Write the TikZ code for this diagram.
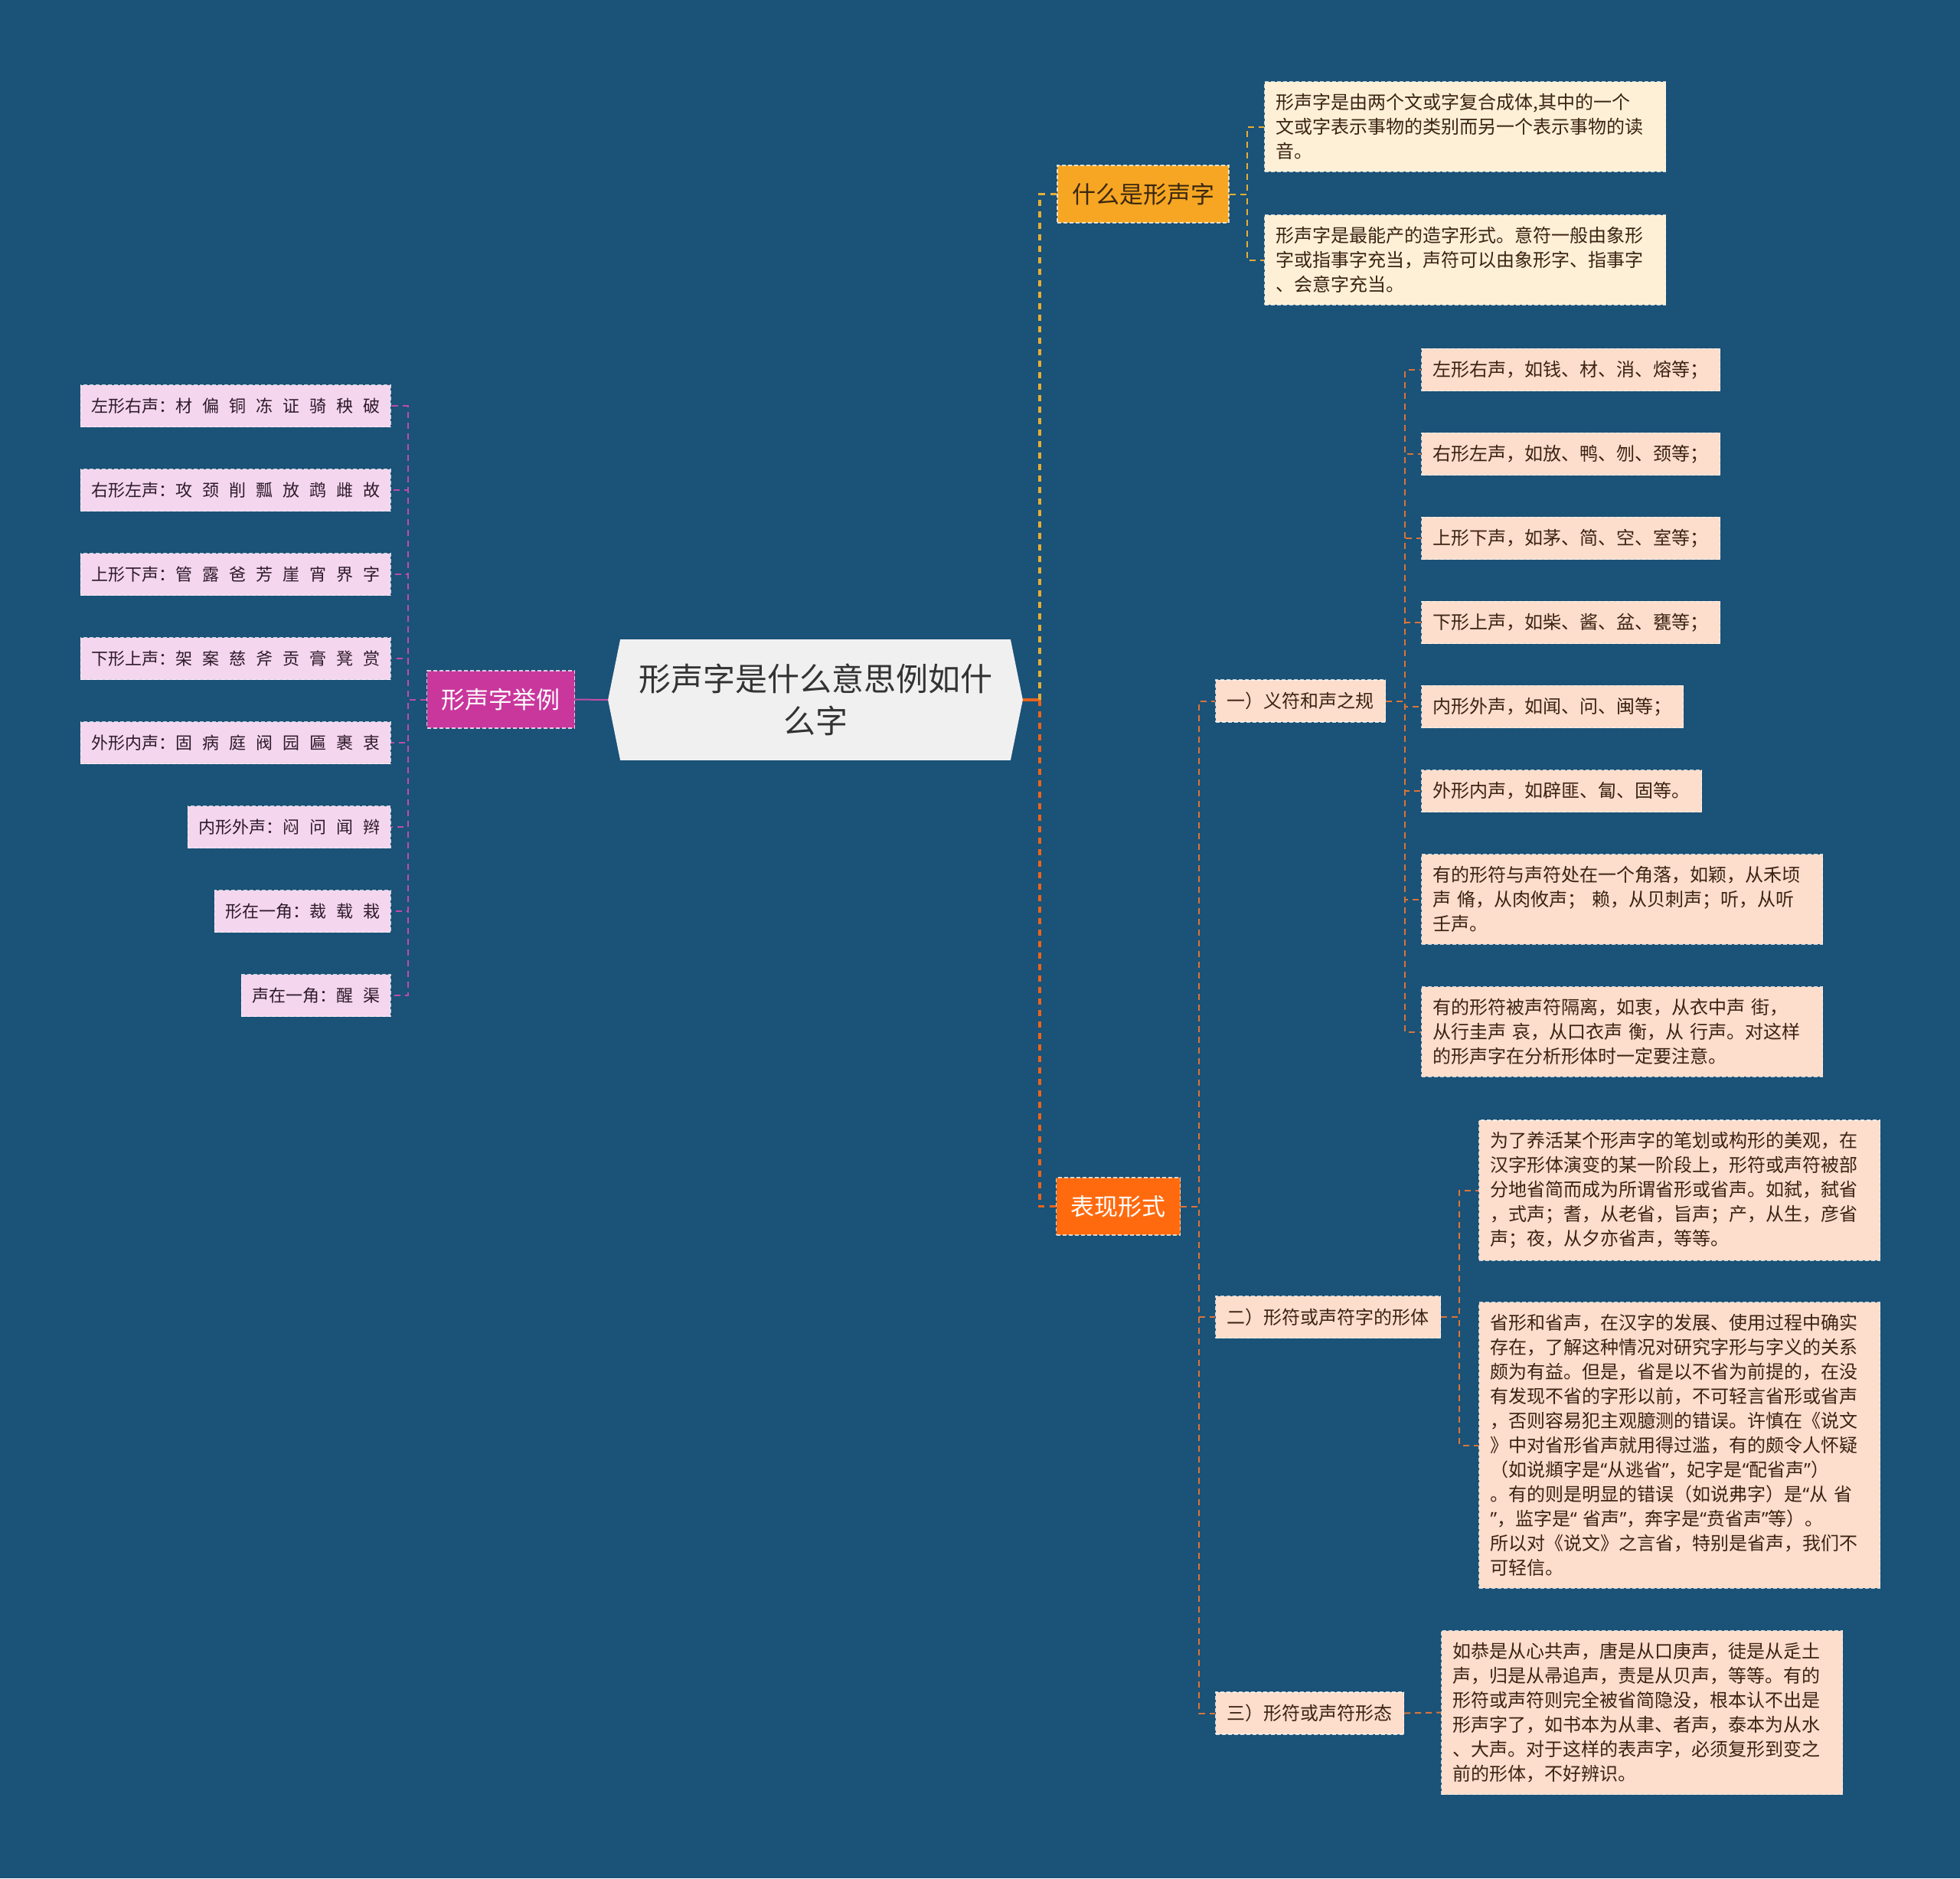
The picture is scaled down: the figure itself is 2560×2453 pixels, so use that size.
\documentclass[tikz,border=0pt]{standalone}
\usepackage{fontspec}
\setmainfont{Noto Sans CJK SC}
\newfontfamily\quotefont{Noto Sans}
\newcommand{\qopen}{{\quotefont “}}
\newcommand{\qclose}{{\quotefont ”}}
\usetikzlibrary{backgrounds}

\definecolor{bgblue}{HTML}{1B5277}
\definecolor{rootfill}{HTML}{F0F0F0}
\definecolor{roottext}{HTML}{333333}
\definecolor{magfill}{HTML}{C9379D}
\definecolor{magline}{HTML}{C04CA6}
\definecolor{pinkfill}{HTML}{F4D6EE}
\definecolor{pinktext}{HTML}{2E1A2A}
\definecolor{goldfill}{HTML}{F6A623}
\definecolor{goldtext}{HTML}{3A2810}
\definecolor{goldline}{HTML}{E6AE35}
\definecolor{creamfill}{HTML}{FDF0D6}
\definecolor{redfill}{HTML}{FF6A0F}
\definecolor{orline}{HTML}{E8641C}
\definecolor{brline}{HTML}{DC7438}
\definecolor{peachfill}{HTML}{FDDDCB}
\definecolor{darktext}{HTML}{3B2314}

\begin{document}
\begin{tikzpicture}[x=0.5pt, y=-0.5pt,
    nodebox/.style={draw=white, draw opacity=0.75, dash pattern=on 2.5pt off 1.5pt,
        line width=0.6pt, inner xsep=7.5pt, inner ysep=7.75pt, minimum height=27.5pt},
    leafbox/.style={nodebox, fill=peachfill, text=darktext, font=\fontsize{12}{16}\selectfont, anchor=west},
    longleaf/.style={leafbox, text width=247pt, align=left},
    topleaf/.style={longleaf, fill=creamfill},
    pinkleaf/.style={nodebox, fill=pinkfill, text=pinktext, inner xsep=7pt, anchor=east,
        font={\fontsize{11}{14}\selectfont\spaceskip=6.5pt\relax}},
    branchbox/.style={nodebox, font=\fontsize{15.5}{20}\selectfont, inner xsep=9.5pt, minimum height=37.5pt},
    conn/.style={line width=1pt, dash pattern=on 4pt off 3pt},
    trunkline/.style={line width=1.6pt, dash pattern=on 4pt off 3.5pt}]
    \useasboundingbox (0,0) rectangle (2560,2453);
    \begin{scope}[on background layer]
        \fill[bgblue] (0,0) rectangle (2560,2453);
    \end{scope}

    % central topic
    \node[font=\fontsize{21}{27.5}\selectfont, align=center, text=roottext, inner sep=0pt,
        minimum width=270.5pt, minimum height=78.5pt] (root) at (1065,914) {形声字是什么意思例如什\\么字};
    \begin{scope}[on background layer]
        \fill[rootfill] (root.west) -- ([xshift=8pt]root.north west) -- ([xshift=-8pt]root.north east)
            -- (root.east) -- ([xshift=-8pt]root.south east) -- ([xshift=8pt]root.south west) -- cycle;
    \end{scope}

    % left branch: examples
    \node[branchbox, fill=magfill, text=white] (eg) at (654,913.5) {形声字举例};
    \draw[magline, line width=1pt] (root.west) -- (eg.east);
    \foreach \t [count=\i] in {左形右声：材 偏 铜 冻 证 骑 秧 破, 右形左声：攻 颈 削 瓢 放 鹉 雌 故,
            上形下声：管 露 爸 芳 崖 宵 界 字, 下形上声：架 案 慈 斧 贡 膏 凳 赏,
            外形内声：固 病 庭 阀 园 匾 裹 衷, 内形外声：闷 问 闻 辫,
            形在一角：裁 载 栽, 声在一角：醒 渠} {
        \node[pinkleaf] (L\i) at (511,{420+110*\i}) {\t};
        \draw[conn, magline] (eg.west) -- ++(-24,0) |- (L\i.east);
    }

    % right trunk
    \coordinate (hub) at ([xshift=11pt]root.east);
    \draw[orline, line width=1.6pt] (root.east) -- (hub);

    % what is it
    \node[branchbox, fill=goldfill, text=goldtext] (what) at (1493,253.5) {什么是形声字};
    \draw[trunkline, goldline] (hub) |- (what.west);
    \node[topleaf] (T1) at (1651,165.5) {形声字是由两个文或字复合成体,其中的一个\\文或字表示事物的类别而另一个表示事物的读\\音。};
    \node[topleaf] (T2) at (1651,339.5) {形声字是最能产的造字形式。意符一般由象形\\字或指事字充当，声符可以由象形字、指事字\\、会意字充当。};
    \foreach \n in {T1,T2}
        \draw[conn, goldline] (what.east) -- ++(23,0) |- (\n.west);

    % forms
    \node[branchbox, fill=redfill, text=white] (show) at (1460.5,1575.5) {表现形式};
    \draw[trunkline, orline] (hub) |- (show.west);
    \node[leafbox] (s1) at (1587,915.5) {一）义符和声之规};
    \node[leafbox] (s2) at (1587,1720) {二）形符或声符字的形体};
    \node[leafbox] (s3) at (1587,2237.5) {三）形符或声符形态};
    \foreach \n in {s1,s2,s3}
        \draw[conn, brline] (show.east) -- ++(24,0) |- (\n.west);

    % first group
    \foreach \t [count=\i] in {左形右声，如钱、材、消、熔等；, 右形左声，如放、鸭、刎、颈等；,
            上形下声，如茅、简、空、室等；, 下形上声，如柴、酱、盆、甕等；,
            内形外声，如闻、问、闽等；, 外形内声，如辟匪、匐、固等。} {
        \node[leafbox] (R\i) at (1856,{373+110*\i}) {\t};
        \draw[conn, brline] (s1.east) -- ++(25,0) |- (R\i.west);
    }
    \node[longleaf] (R7) at (1856,1174.5) {有的形符与声符处在一个角落，如颖，从禾顷\\声 脩，从肉攸声； 赖，从贝刺声；听，从听\\壬声。};
    \node[longleaf] (R8) at (1856,1347.5) {有的形符被声符隔离，如衷，从衣中声 街，\\从行圭声 哀，从口衣声 衡，从 行声。对这样\\的形声字在分析形体时一定要注意。};
    \foreach \n in {R7,R8}
        \draw[conn, brline] (s1.east) -- ++(25,0) |- (\n.west);

    % second group
    \node[longleaf] (F1) at (1931,1554.5) {为了养活某个形声字的笔划或构形的美观，在\\汉字形体演变的某一阶段上，形符或声符被部\\分地省简而成为所谓省形或省声。如弑，弑省\\，式声；耆，从老省，旨声；产，从生，彦省\\声；夜，从夕亦省声，等等。};
    \node[longleaf] (F2) at (1931,1887.5) {省形和省声，在汉字的发展、使用过程中确实\\存在，了解这种情况对研究字形与字义的关系\\颇为有益。但是，省是以不省为前提的，在没\\有发现不省的字形以前，不可轻言省形或省声\\，否则容易犯主观臆测的错误。许慎在《说文\\》中对省形省声就用得过滥，有的颇令人怀疑\\（如说頫字是\qopen 从逃省\qclose，妃字是\qopen 配省声\qclose）\\。有的则是明显的错误（如说弗字）是\qopen 从~省\\\qclose，监字是\qopen~省声\qclose，奔字是\qopen 贲省声\qclose 等）。\\所以对《说文》之言省，特别是省声，我们不\\可轻信。};
    \foreach \n in {F1,F2}
        \draw[conn, brline] (s2.east) -- ++(24,0) |- (\n.west);

    % third group
    \node[longleaf] (G1) at (1882,2236.5) {如恭是从心共声，唐是从口庚声，徒是从辵土\\声，归是从帚追声，责是从贝声，等等。有的\\形符或声符则完全被省简隐没，根本认不出是\\形声字了，如书本为从聿、者声，泰本为从水\\、大声。对于这样的表声字，必须复形到变之\\前的形体，不好辨识。};
    \draw[conn, brline] (s3.east) -- (G1.west);
\end{tikzpicture}
\end{document}
